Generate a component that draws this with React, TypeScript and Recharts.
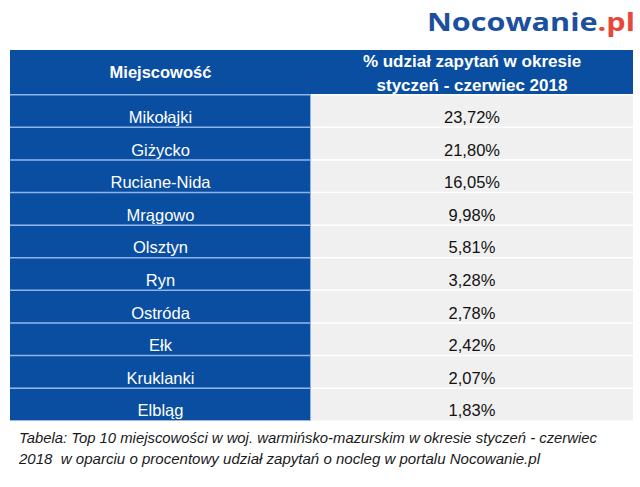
import { BarChart, Bar, XAxis, YAxis, LabelList } from "recharts"

// table content
const cities = [
  "Mikołajki",
  "Giżycko",
  "Ruciane-Nida",
  "Mrągowo",
  "Olsztyn",
  "Ryn",
  "Ostróda",
  "Ełk",
  "Kruklanki",
  "Elbląg",
]
const shares = [23.72, 21.8, 16.05, 9.98, 5.81, 3.28, 2.78, 2.42, 2.07, 1.83]
const headerLeft = "Miejscowość"
const headerRight = ["% udział zapytań w okresie", "styczeń - czerwiec 2018"]
const captionLines = [
  "Tabela: Top 10 miejscowości w woj. warmińsko-mazurskim w okresie styczeń - czerwiec",
  "2018  w oparciu o procentowy udział zapytań o nocleg w portalu Nocowanie.pl",
]
const captionWidths = [578, 521]

const BLUE = "#0a4ea2"
const GREY = "#f0f0f0"
const FONT = "'Liberation Sans', Arial, sans-serif"

// column widths, in x-axis units (pixels of the plot area)
const LEFT_W = 301
const RIGHT_W = 322

const rows = cities.map((city, i) => ({
  city,
  share: shares[i].toFixed(2).replace(".", ",") + "%",
  left: LEFT_W,
  right: RIGHT_W,
}))

const makeCell = (fill: string, line: string, edge?: string) => (props: any) => {
  const { x, y, width, height } = props
  return (
    <g>
      <rect x={x} y={y} width={width} height={height} fill={fill} />
      <line x1={x} x2={x + width} y1={y + 0.75} y2={y + 0.75} stroke={line} strokeWidth={1.5} />
      {edge && <line x1={x + width - 0.5} x2={x + width - 0.5} y1={y} y2={y + height} stroke={edge} strokeWidth={1} />}
    </g>
  )
}

const makeLabel = (color: string) => (props: any) => {
  const { x, y, width, height, value } = props
  return (
    <text
      x={x + width / 2}
      y={y + height - 4}
      textAnchor="middle"
      fill={color}
      fontFamily={FONT}
      fontSize={16.5}
    >
      {value}
    </text>
  )
}

export default function App() {
  return (
    <div style={{ position: "absolute", left: 0, top: 0, width: 640, height: 487, background: "#fff" }}>
      <BarChart
        width={640}
        height={487}
        data={rows}
        layout="vertical"
        margin={{ top: 94, right: 7, bottom: 67, left: 10 }}
        barCategoryGap={0}
      >
        <XAxis type="number" hide domain={[0, LEFT_W + RIGHT_W]} />
        <YAxis type="category" dataKey="city" hide />
        <Bar dataKey="left" stackId="t" isAnimationActive={false} shape={makeCell(BLUE, "#8fb6ea", "#8fb6ea")}>
          <LabelList dataKey="city" content={makeLabel("#ffffff")} />
        </Bar>
        <Bar dataKey="right" stackId="t" isAnimationActive={false} shape={makeCell(GREY, "#ffffff")}>
          <LabelList dataKey="share" content={makeLabel("#111111")} />
        </Bar>
      </BarChart>
      <svg
        width={640}
        height={487}
        style={{ position: "absolute", left: 0, top: 0, pointerEvents: "none" }}
      >
        <text
          x={427}
          y={31}
          fontFamily="'Open Sans', sans-serif"
          fontWeight={700}
          fontSize={25}
          textLength={208}
          lengthAdjust="spacingAndGlyphs"
        >
          <tspan fill="#1c4f9e">Nocowanie</tspan>
          <tspan fill="#e8483b">.pl</tspan>
        </text>
        <rect x={10} y={50} width={LEFT_W + RIGHT_W} height={44} fill={BLUE} />
        <text x={10 + LEFT_W / 2} y={78} textAnchor="middle" fill="#fff" fontFamily={FONT} fontWeight={700} fontSize={16.5}>
          {headerLeft}
        </text>
        {headerRight.map((t, i) => (
          <text
            key={i}
            x={10 + LEFT_W + RIGHT_W / 2}
            y={67 + i * 24}
            textAnchor="middle"
            fill="#fff"
            fontFamily={FONT}
            fontWeight={700}
            fontSize={17}
          >
            {t}
          </text>
        ))}
        {captionLines.map((t, i) => (
          <text
            key={i}
            x={19}
            y={443 + i * 21}
            fill="#1a1a1a"
            fontFamily={FONT}
            fontStyle="italic"
            fontSize={15}
            textLength={captionWidths[i]}
            lengthAdjust="spacingAndGlyphs"
            style={{ whiteSpace: "pre" }}
          >
            {t}
          </text>
        ))}
      </svg>
    </div>
  )
}
